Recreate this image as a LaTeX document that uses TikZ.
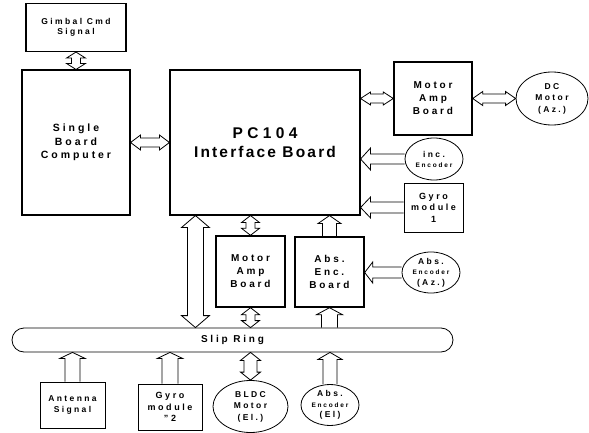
\documentclass[tikz,border=0pt]{standalone}
\usepackage{fontspec}
\setmainfont{Liberation Sans}[LetterSpace=28]
\newfontfamily\tightfont{Liberation Sans}[LetterSpace=14]
\usetikzlibrary{calc,shapes.geometric}
\newcommand\fs[2]{\bfseries\fontsize{#1}{#2}\selectfont}
% double block arrow: from, to, shaft half-width, head half-width, head length
\newcommand\dblarr[5]{%
  \coordinate (ba) at (#1); \coordinate (bb) at (#2);
  \coordinate (na) at ($(ba)!#5pt!(bb)$);
  \coordinate (nb) at ($(bb)!#5pt!(ba)$);
  \draw[blk] (ba) -- ($(na)!#4pt!90:(bb)$) -- ($(na)!#3pt!90:(bb)$)
    -- ($(nb)!#3pt!-90:(ba)$) -- ($(nb)!#4pt!-90:(ba)$) -- (bb)
    -- ($(nb)!#4pt!90:(ba)$) -- ($(nb)!#3pt!90:(ba)$)
    -- ($(na)!#3pt!-90:(bb)$) -- ($(na)!#4pt!-90:(bb)$) -- cycle;
}
% single block arrow: tail, tip, shaft half-width, head half-width, head length
\newcommand\sglarr[5]{%
  \coordinate (ba) at (#1); \coordinate (bb) at (#2);
  \coordinate (nb) at ($(bb)!#5pt!(ba)$);
  \draw[blk] ($(ba)!#3pt!90:(bb)$) -- ($(nb)!#3pt!-90:(ba)$)
    -- ($(nb)!#4pt!-90:(ba)$) -- (bb) -- ($(nb)!#4pt!90:(ba)$)
    -- ($(nb)!#3pt!90:(ba)$) -- ($(ba)!#3pt!-90:(bb)$);
}
\tikzset{
  box/.style={draw, line width=1.1pt, align=center, inner sep=0pt},
  oval/.style={draw, ellipse, line width=0.8pt, align=center, inner sep=0pt},
  blk/.style={draw, line width=0.8pt, line join=miter},
}
\begin{document}
\begin{tikzpicture}[x=1pt,y=-1pt]
\useasboundingbox (0,0) rectangle (589,433);
% boxes
\node[box, minimum width=100pt, minimum height=48pt, font=\fs{8.5}{10}] (gimbal) at (76,27.5) {Gimbal Cmd\\Signal};
\node[box, minimum width=108pt, minimum height=145pt, font=\fs{10.5}{13.3}] (sbc) at (76,142.5) {Single\\Board\\Computer};
\node[box, minimum width=190pt, minimum height=145pt, font=\fs{15.5}{19}] (pc) at (265,142.5) {PC104\\{\tightfont\fs{15.5}{19}Interface Board}};
\node[box, line width=1.4pt, minimum width=78pt, minimum height=73pt, font=\fs{10}{13}] (amp1) at (433,98.5) {Motor\\Amp\\Board};
\node[oval, minimum width=72pt, minimum height=53pt, font=\fs{8.5}{11.5}] (dc) at (552,98.5) {DC\\Motor\\(Az.)};
\node[oval, minimum width=58pt, minimum height=42pt, font=\fs{8.5}{10}] (inc) at (434,159) {inc.\\{\fs{6.5}{8}Encoder}};
\node[box, line width=0.8pt, minimum width=59pt, minimum height=49pt, font=\fs{9}{11.5}] (gyro1) at (433.5,207.5) {Gyro\\module\\1};
\node[box, line width=1.4pt, minimum width=69pt, minimum height=71pt, font=\fs{10}{13}] (amp2) at (250.5,271.5) {Motor\\Amp\\Board};
\node[box, line width=1.4pt, minimum width=69pt, minimum height=70pt, font=\fs{10}{13}] (absb) at (329.5,272) {Abs.\\Enc.\\Board};
\node[oval, minimum width=58pt, minimum height=41pt, font=\fs{8.5}{10.5}] (absaz) at (431,272.5) {Abs.\\{\fs{6.5}{10.5}Encoder}\\(Az.)};
\node[draw, line width=0.8pt, rounded corners=12pt, minimum width=441pt, minimum height=24pt, font=\fs{10}{12}] (slip) at (232.5,340) {Slip Ring};
\node[box, line width=0.8pt, minimum width=65pt, minimum height=46pt, font=\fs{8.5}{11.5}] (ant) at (72.5,405) {Antenna\\Signal};
\node[box, line width=0.8pt, minimum width=64pt, minimum height=46pt, font=\fs{9}{11.5}] (gyro2) at (170,407) {Gyro\\module\\"2};
\node[oval, minimum width=75pt, minimum height=52pt, font=\fs{8.5}{11.5}] (bldc) at (250.5,406.5) {BLDC\\Motor\\(El.)};
\node[oval, minimum width=58pt, minimum height=40pt, font=\fs{8.5}{10.5}] (absel) at (330,405) {Abs.\\{\fs{6.5}{10.5}Encoder}\\(El)};
% connectors
\dblarr{gimbal.south}{sbc.north}{4.5}{9.5}{6}
\dblarr{sbc.east |- pc.west}{pc.west}{4.5}{7.5}{10}
\dblarr{pc.east |- amp1.west}{amp1.west}{4.5}{6.5}{10}
\dblarr{amp1.east}{dc.west}{4.5}{7}{10}
\sglarr{inc.west}{inc.west -| pc.east}{5}{11}{10}
\sglarr{gyro1.west}{gyro1.west -| pc.east}{5.5}{10.5}{10}
\coordinate (bigx) at ($(pc.south west)+(26,0)$);
\dblarr{bigx}{bigx |- slip.north}{8}{14}{12}
\dblarr{amp2.north |- pc.south}{amp2.north}{4.5}{9}{7}
\dblarr{amp2.south}{amp2.south |- slip.north}{4.5}{9}{7}
\sglarr{absb.north}{absb.north |- pc.south}{7}{11.5}{8}
\sglarr{absaz.west}{absaz.west -| absb.east}{5.5}{10.5}{8}
\sglarr{absb.south |- slip.north}{absb.south}{8}{13}{7}
\sglarr{absel.north}{absel.north |- slip.south}{7}{12}{7}
\sglarr{ant.north}{ant.north |- slip.south}{7.5}{12.5}{6}
\sglarr{gyro2.north}{gyro2.north |- slip.south}{8}{12.5}{6}
\dblarr{bldc.north}{bldc.north |- slip.south}{6.5}{10}{8}
\end{tikzpicture}
\end{document}
